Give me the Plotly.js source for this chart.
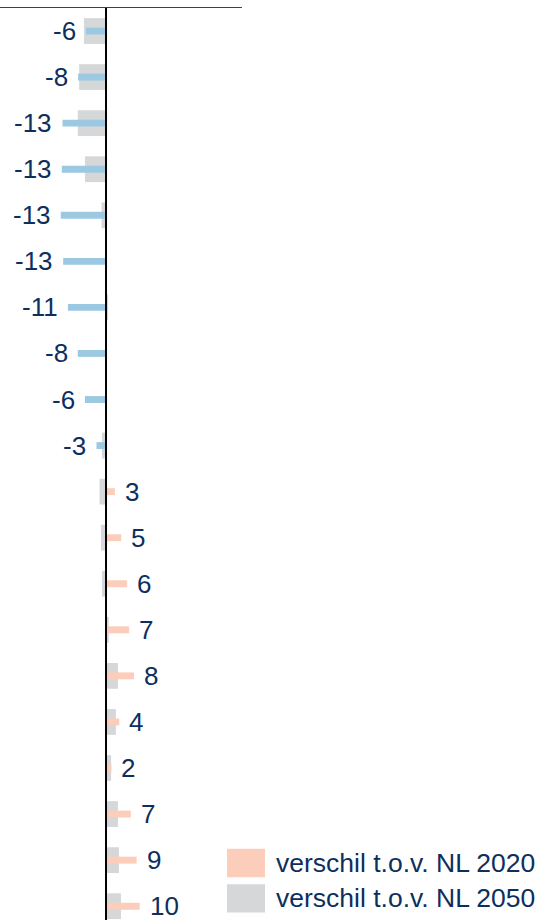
<!DOCTYPE html>
<html>
<head>
<meta charset="utf-8">
<script src="https://cdn.plot.ly/plotly-3.0.1.min.js"></script>
<style>html,body{margin:0;padding:0;background:#fff;}#chart{width:542px;height:920px;}</style>
</head>
<body>
<div id="chart"></div>
<script>
var categories = ["rij 1","rij 2","rij 3","rij 4","rij 5","rij 6","rij 7","rij 8","rij 9","rij 10","rij 11","rij 12","rij 13","rij 14","rij 15","rij 16","rij 17","rij 18","rij 19","rij 20"];
var nl2020 = [-5.9, -8.2, -12.8, -13.0, -13.3, -12.6, -11.2, -8.3, -6.2, -2.8, 2.6, 4.5, 6.2, 6.8, 8.2, 3.9, 1.6, 7.3, 9.0, 9.9];
var labels2020 = ["-6","-8","-13","-13","-13","-13","-11","-8","-6","-3","3","5","6","7","8","4","2","7","9","10"];
var nl2050 = [-6.5, -7.9, -8.3, -6.2, -1.3, 0, 0.6, 0, 0, -1.2, -1.9, -1.5, -1.2, 0.8, 3.5, 2.9, 1.5, 3.5, 3.8, 4.4];
var seriesNames = ["verschil t.o.v. NL 2020", "verschil t.o.v. NL 2050"];

var BLUE = "#9DC8E1", SALMON = "#FBCDBA", GREY = "#D6D7D9", TEXT = "#0D2F5E";
var FONT = "Liberation Sans, Arial, sans-serif";

var trace2050 = {
  type: "bar", orientation: "h", name: seriesNames[1],
  y: categories, x: nl2050, width: 0.56,
  marker: {color: GREY}, hoverinfo: "x"
};
var trace2020 = {
  type: "bar", orientation: "h", name: seriesNames[0],
  y: categories, x: nl2020, width: 0.15,
  marker: {color: nl2020.map(function(v){ return v < 0 ? BLUE : SALMON; })},
  hoverinfo: "x"
};

var annotations = nl2020.map(function(v, i){
  return {
    x: v, y: categories[i], xref: "x", yref: "y",
    text: labels2020[i], showarrow: false,
    xanchor: v < 0 ? "right" : "left", xshift: v < 0 ? -8 : 8,
    font: {family: FONT, size: 26, color: TEXT}
  };
});

// legend (manual, large swatches)
var legendColors = [SALMON, GREY];
var legY = [0.0625, 0.0236];
var shapes = [
  {type: "line", xref: "x", yref: "paper", x0: 0, x1: 0, y0: 0, y1: 1,
   line: {color: "#000000", width: 2}, layer: "above"}
];
legendColors.forEach(function(c, i){
  shapes.push({type: "rect", xref: "paper", yref: "paper",
    x0: 0.938, x1: 1.095, y0: legY[i] - 0.0155, y1: legY[i] + 0.0155,
    fillcolor: c, line: {width: 0}});
  annotations.push({xref: "paper", yref: "paper", x: 1.132, y: legY[i],
    xanchor: "left", yanchor: "middle", text: seriesNames[i], showarrow: false,
    font: {family: FONT, size: 26.5, color: TEXT}});
});

var layout = {
  width: 542, height: 920,
  margin: {l: 0, r: 300, t: 8, b: 0, pad: 0},
  barmode: "overlay",
  showlegend: false,
  paper_bgcolor: "#ffffff", plot_bgcolor: "#ffffff",
  font: {family: FONT, color: TEXT},
  xaxis: {range: [-31.18, 40.0], side: "top", showline: true, linecolor: "#404040", linewidth: 1,
          showgrid: false, zeroline: false, showticklabels: false, ticks: "", fixedrange: true},
  yaxis: {type: "category", range: [19.3, -0.5], showgrid: false, zeroline: false,
          showticklabels: false, ticks: "", showline: false, fixedrange: true},
  annotations: annotations,
  shapes: shapes
};

Plotly.newPlot("chart", [trace2050, trace2020], layout, {displayModeBar: false, staticPlot: true});
</script>
</body>
</html>
